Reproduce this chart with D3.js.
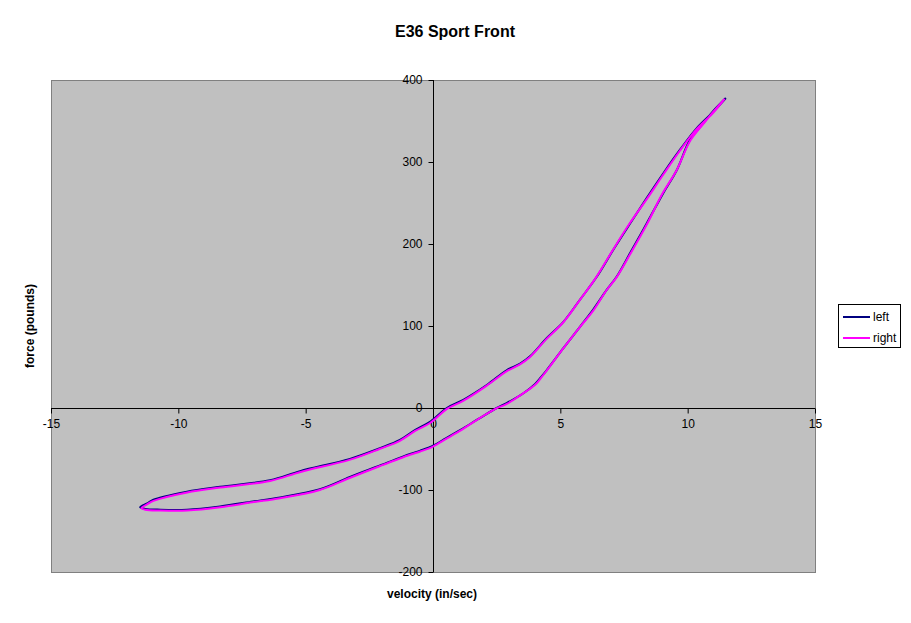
<!DOCTYPE html>
<html>
<head>
<meta charset="utf-8">
<script src="https://cdn.jsdelivr.net/npm/d3@7"></script>
<style>
  html, body { margin: 0; padding: 0; background: #fff; }
  svg { display: block; font-family: "Liberation Sans", Arial, sans-serif; }
</style>
</head>
<body>
<svg id="chart" width="911" height="623"></svg>
<script>
// ---- data ----
const chartTitle = "E36 Sport Front";
const xTitle = "velocity (in/sec)";
const yTitle = "force (pounds)";
const xTicks = [-15, -10, -5, 0, 5, 10, 15];
const yTicks = [-200, -100, 0, 100, 200, 300, 400];
const seriesNames = ["left", "right"];

// left damper: loop starting at top-right tip, down the lower branch, back up the upper branch
const leftVelocity = [11.5, 11.0, 10.61, 10.09, 9.57, 9.04, 8.39, 7.74, 7.21, 6.82, 6.29, 5.77, 5.12, 4.46, 4.25, 4.0, 3.55, 2.89, 2.5, 1.75, 1.06, 0.5, 0, -0.5, -0.9, -2.08, -3.26, -4.44, -6.0, -7.07, -8.36, -9.66, -10.7, -11.3, -11.5,
  -11.2, -11.0, -9.66, -8.36, -6.4, -5.22, -3.26, -2.08, -1.3, -0.71, -0.12, 0.54, 1.19, 2.11, 2.89, 3.42, 3.81, 4.46, 5.12, 5.77, 6.43, 7.08, 7.74, 8.39, 9.04, 9.70, 10.35, 11.0, 11.5];
const leftForce = [378, 362, 347, 327, 290, 262, 225, 189, 160, 144, 120, 99, 73, 46, 38, 29, 18, 6, 0, -14, -27, -37, -46, -52, -56, -70, -84, -99, -109, -114, -120, -124, -124, -123, -121,
  -116, -112, -102, -96, -88, -77, -62, -49, -39, -27, -17, 0, 10, 28, 46, 54, 63, 85, 105, 132, 160, 193, 225, 256, 286, 315, 341, 361, 378];

// right damper
const rightVelocity = [11.45, 11.0, 10.6, 10.1, 9.55, 9.0, 8.4, 7.75, 7.2, 6.8, 6.3, 5.75, 5.1, 4.45, 4.25, 4.0, 3.5, 2.9, 2.45, 1.7, 1.05, 0.5, 0, -0.5, -0.9, -2.1, -3.25, -4.45, -6.0, -7.1, -8.35, -9.65, -10.7, -11.3, -11.45,
  -11.2, -10.95, -9.65, -8.35, -6.4, -5.2, -3.25, -2.1, -1.3, -0.7, -0.1, 0.55, 1.2, 2.1, 2.9, 3.4, 3.8, 4.45, 5.1, 5.75, 6.4, 7.05, 7.7, 8.4, 9.05, 9.7, 10.35, 11.0, 11.45];
const rightForce = [377, 361, 346, 326, 289, 261, 224, 188, 159, 143, 119, 98, 72, 45, 37, 28, 17, 5, -1, -15, -28, -38, -47, -53, -57, -71, -85, -100, -110, -115, -121, -125, -125, -124, -122,
  -117, -113, -103, -97, -89, -78, -63, -50, -40, -28, -18, -1, 9, 27, 45, 53, 62, 84, 104, 131, 159, 192, 224, 255, 285, 314, 340, 360, 377];

const seriesColors = ["#000080", "#FF00FF"];

// ---- layout ----
const svg = d3.select("#chart");
const plot = { left: 51, right: 815, top: 80, bottom: 572 };

const x = d3.scaleLinear().domain([-15, 15]).range([plot.left, plot.right]);
const y = d3.scaleLinear().domain([-200, 400]).range([plot.bottom, plot.top]);

// plot area
svg.append("rect")
  .attr("x", plot.left + 0.5).attr("y", plot.top + 0.5)
  .attr("width", plot.right - plot.left).attr("height", plot.bottom - plot.top)
  .attr("fill", "#C0C0C0").attr("stroke", "#808080").attr("stroke-width", 1);

// title
svg.append("text").attr("x", 455).attr("y", 37).attr("text-anchor", "middle")
  .attr("font-size", 16).attr("font-weight", "bold").text(chartTitle);

// axes crossing at zero
const fmt = d => String(d);
const xAxis = d3.axisBottom(x).tickValues(xTicks).tickSize(5).tickPadding(6).tickFormat(fmt);
const yAxis = d3.axisLeft(y).tickValues(yTicks).tickSize(5).tickPadding(6).tickFormat(fmt);

const gx = svg.append("g").attr("transform", `translate(0,${Math.round(y(0)) + 0.5})`).call(xAxis);
const gy = svg.append("g").attr("transform", `translate(${Math.round(x(0)) + 0.5},0)`).call(yAxis);

[gx, gy].forEach(g => {
  g.select(".domain").attr("stroke", "#000").attr("stroke-width", 1);
  g.selectAll(".tick line").attr("stroke", "#000");
  g.selectAll(".tick text").attr("font-size", 12).attr("fill", "#000")
    .attr("font-family", "'Liberation Sans', Arial, sans-serif");
});
gx.select(".domain").attr("d", `M${plot.left},0H${plot.right}`);
gy.select(".domain").attr("d", `M0,${plot.top}V${plot.bottom}`);

// axis titles
svg.append("text").attr("x", 432).attr("y", 598).attr("text-anchor", "middle")
  .attr("font-size", 12).attr("font-weight", "bold").text(xTitle);
svg.append("text").attr("transform", "translate(34,326) rotate(-90)").attr("text-anchor", "middle")
  .attr("font-size", 12).attr("font-weight", "bold").text(yTitle);

// series
const line = d3.line().x(d => x(d[0])).y(d => y(d[1])).curve(d3.curveCatmullRom.alpha(0.5));
const seriesData = [
  d3.zip(leftVelocity, leftForce),
  d3.zip(rightVelocity, rightForce)
];
seriesData.forEach((pts, i) => {
  svg.append("path").datum(pts).attr("d", line)
    .attr("fill", "none").attr("stroke", seriesColors[i])
    .attr("stroke-width", 2).attr("stroke-linejoin", "round");
});

// legend
const lg = svg.append("g");
lg.append("rect").attr("x", 838.5).attr("y", 304.5).attr("width", 62).attr("height", 43)
  .attr("fill", "#fff").attr("stroke", "#000").attr("stroke-width", 1);
seriesNames.forEach((name, i) => {
  const ly = 317 + i * 21;
  lg.append("line").attr("x1", 843).attr("x2", 870).attr("y1", ly).attr("y2", ly)
    .attr("stroke", seriesColors[i]).attr("stroke-width", 2);
  lg.append("text").attr("x", 873).attr("y", ly + 4).attr("font-size", 12).text(name);
});
</script>
</body>
</html>
